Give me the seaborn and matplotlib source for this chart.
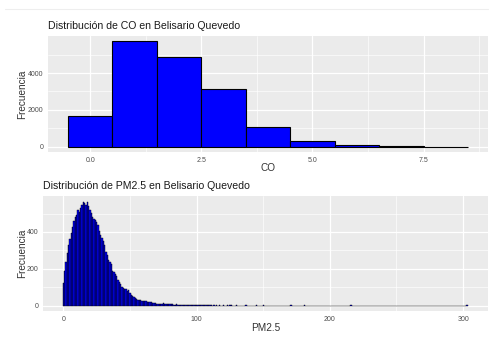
import matplotlib
matplotlib.use("Agg")
import matplotlib.pyplot as plt
from matplotlib.ticker import FixedLocator
import numpy as np
import seaborn as sns

# ---- data ----
co_values = [0, 1, 2, 3, 4, 5, 6, 7, 8]
co_counts = [1690, 5720, 4870, 3120, 1050, 290, 95, 25, 6]

pm_head_counts = [125, 190, 235, 285, 330, 360, 395, 425, 460, 480,
                  490, 520, 510, 530, 545, 562, 555, 545, 565, 540,
                  520, 505, 480, 470, 465, 455, 440, 405, 385, 365,
                  350, 330, 290, 275, 250, 235, 225, 190, 180, 170,
                  160, 140, 130, 115, 100, 95, 92, 93, 80, 85,
                  70, 60, 50, 45, 40, 38, 33, 30, 28, 27,
                  25, 25, 24, 22, 20, 19, 18, 17, 14, 12,
                  11, 10, 9, 10, 11, 12, 11, 10, 9, 8,
                  8, 7, 7, 6, 6, 7, 5, 6, 5, 5,
                  4, 4, 4, 5, 3, 4, 3, 3, 4, 3, 2]
pm_tail = {101: 2, 102: 2, 103: 1, 104: 2, 105: 1, 106: 2, 107: 1, 108: 2,
           109: 1, 110: 1, 111: 2, 113: 1, 115: 1, 117: 1, 120: 1, 123: 1,
           125: 1, 126: 1, 130: 1, 137: 1, 145: 1, 150: 1, 171: 1, 181: 1,
           216: 1, 303: 1}

titles = ["Distribución de CO en Belisario Quevedo",
          "Distribución de PM2.5 en Belisario Quevedo"]
xlabels = ["CO", "PM2.5"]
ylabel = "Frecuencia"

pm_values = list(range(len(pm_head_counts))) + list(pm_tail.keys())
pm_counts = pm_head_counts + list(pm_tail.values())

# ---- figure ----
sns.set_theme(style="darkgrid")
plt.rcParams['font.family'] = ['Liberation Sans', 'DejaVu Sans']

W, H = 495, 350
fig = plt.figure(figsize=(W / 100, H / 100), dpi=100)
fig.patch.set_facecolor("white")

def ax_rect(l, t, r, b):
    return [l / W, 1 - b / H, (r - l) / W, (b - t) / H]

rects = [(48, 36, 488, 152), (43, 196, 488, 311)]
ax1 = fig.add_axes(ax_rect(*rects[0]))
ax2 = fig.add_axes(ax_rect(*rects[1]))

# faint line at top of image
fig.add_artist(plt.Line2D([5 / W, 488 / W], [1 - 9 / H, 1 - 9 / H],
                          color="#eeeeee", lw=0.8))

sns.histplot(x=co_values, weights=co_counts, binwidth=1, binrange=(-0.5, 8.5),
             color="blue", edgecolor="black", linewidth=0.8, alpha=1, ax=ax1)
sns.histplot(x=pm_values, weights=pm_counts, binwidth=1, binrange=(-0.5, 303.5),
             color="blue", edgecolor="black", linewidth=0.3, alpha=1, ax=ax2)

def style(ax, xlim, ylim, xmaj, xmin, ymaj, ymin, xfmt):
    ax.set_facecolor("#EBEBEB")
    ax.set_xlim(*xlim)
    ax.set_ylim(*ylim)
    ax.xaxis.set_major_locator(FixedLocator(xmaj))
    ax.xaxis.set_minor_locator(FixedLocator(xmin))
    ax.yaxis.set_major_locator(FixedLocator(ymaj))
    ax.yaxis.set_minor_locator(FixedLocator(ymin))
    ax.set_xticklabels([xfmt(v) for v in xmaj])
    ax.set_yticklabels([str(v) for v in ymaj])
    ax.grid(which="major", color="white", lw=0.9)
    ax.grid(which="minor", color="white", lw=0.45)
    ax.set_axisbelow(True)
    for s in ax.spines.values():
        s.set_visible(False)
    ax.tick_params(axis="both", which="major", length=2.5, width=0.6,
                   color="#333333", labelsize=5, labelcolor="#4D4D4D", pad=1)
    ax.tick_params(axis="both", which="minor", length=0)

style(ax1, (-0.95, 8.95), (-290, 6010),
      [0, 2.5, 5, 7.5], [-1.25, 1.25, 3.75, 6.25, 8.75],
      [0, 2000, 4000], [1000, 3000, 5000], lambda v: f"{v:.1f}")
style(ax2, (-15.2, 318.7), (-29, 595),
      [0, 100, 200, 300], [50, 150, 250],
      [0, 200, 400], [100, 300, 500], lambda v: f"{v}")

label_y = [168, 328]
for ax, t, xl, r, ly in [(ax1, titles[0], xlabels[0], rects[0], label_y[0]),
                         (ax2, titles[1], xlabels[1], rects[1], label_y[1])]:
    l, tp, rr, b = r
    ax.set_title(t, loc="left", fontsize=7.6, color="#1a1a1a", pad=5)
    ax.set_xlabel(xl, fontsize=7.2, color="#333333")
    ax.set_ylabel(ylabel, fontsize=7.2, color="#333333")
    ax.yaxis.set_label_coords((21.7 - l) / (rr - l), 0.5)
    ax.xaxis.set_label_coords(0.5, (b - ly) / (b - tp))
    ax.xaxis.label.set_va("center")
    ax.yaxis.label.set_va("center")

fig.savefig("out.png", dpi=100, facecolor="white")
